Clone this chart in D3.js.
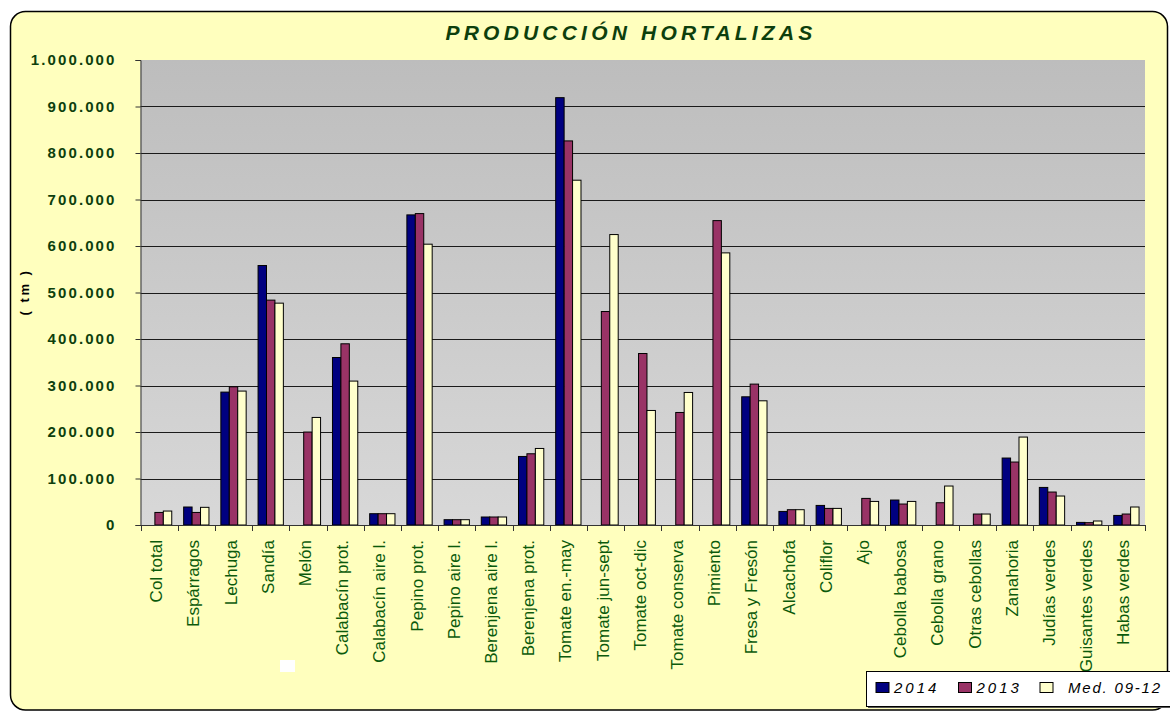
<!DOCTYPE html>
<html>
<head>
<meta charset="utf-8">
<script src="https://cdn.jsdelivr.net/npm/d3@7"></script>
<style>
 body { margin: 0; background: #fff; }
 text { font-family: Arial, "Liberation Sans", sans-serif; }
</style>
</head>
<body>
<div id="chart"></div>
<script>
// datos (tm)
var categories = ["Col total", "Espárragos", "Lechuga", "Sandía", "Melón",
 "Calabacín prot.", "Calabacín aire l.", "Pepino prot.", "Pepino aire l.",
 "Berenjena aire l.", "Berenjena prot.", "Tomate en.-may", "Tomate jun-sept",
 "Tomate oct-dic", "Tomate conserva", "Pimiento", "Fresa y Fresón", "Alcachofa",
 "Coliflor", "Ajo", "Cebolla babosa", "Cebolla grano", "Otras cebollas",
 "Zanahoria", "Judías verdes", "Guisantes verdes", "Habas verdes"];
var seriesNames = ["2014", "2013", "Med. 09-12"];
var values2014 = [null, 38700, 285800, 558000, null, 360200, 24300, 666900, 11400,
 17200, 147400, 919000, null, null, null, null, 275700, 29200, 42100, null,
 53700, null, null, 144000, 80800, 5600, 20600];
var values2013 = [27000, 27000, 297200, 483600, 199900, 389700, 24300, 669700, 11400,
 17200, 153200, 826000, 459100, 368800, 242000, 654600, 303000, 32900, 35700, 57200,
 45100, 47900, 23600, 135400, 70900, 5000, 23600];
var valuesMed = [30000, 38000, 288000, 477100, 231300, 309500, 24300, 603900, 11400,
 17200, 164600, 741500, 624600, 246300, 285000, 585200, 267100, 32900, 35700, 50700,
 50700, 83800, 23600, 189100, 62300, 8600, 38700];
var yTicks = [0, 100000, 200000, 300000, 400000, 500000, 600000, 700000, 800000, 900000, 1000000];

var colors = ["#000080", "#993366", "#FFFFCC"];

var svgWidth = 1170;
var svgHeight = 711;
var plot = { left: 140.5, right: 1145, top: 60, bottom: 525 };

var locale = d3.formatLocale({ decimal: ",", thousands: ".", grouping: [3], currency: ["", ""] });
var fmt = locale.format(",d");

var svg = d3.select("#chart")
 .append("svg")
   .attr("width", svgWidth)
   .attr("height", svgHeight);

// fondo amarillo con esquinas redondeadas
svg.append("rect")
 .attr("x", 10.5).attr("y", 11.5)
 .attr("width", 1157).attr("height", 698.5)
 .attr("rx", 15).attr("ry", 15)
 .attr("fill", "#FFFFBE")
 .attr("stroke", "#000")
 .attr("stroke-width", 1.5);

var defs = svg.append("defs");
var grad = defs.append("linearGradient")
 .attr("id", "plotbg")
 .attr("x1", 0).attr("y1", 0).attr("x2", 0).attr("y2", 1);
grad.append("stop").attr("offset", "0%").attr("stop-color", "#BDBDBD");
grad.append("stop").attr("offset", "100%").attr("stop-color", "#D8D8D8");

svg.append("rect")
 .attr("x", plot.left).attr("y", plot.top)
 .attr("width", plot.right - plot.left)
 .attr("height", plot.bottom - plot.top)
 .attr("fill", "url(#plotbg)");

// escalas
var x0 = d3.scaleBand()
 .domain(categories)
 .range([plot.left, plot.right])
 .padding(0);
var bw = x0.bandwidth();
var gw = bw * 0.68;
var x1 = d3.scaleBand()
 .domain(seriesNames)
 .range([(bw - gw) / 2, (bw + gw) / 2]);
var y = d3.scaleLinear()
 .domain([0, 1000000])
 .range([plot.bottom, plot.top]);

// líneas de división
svg.append("g")
 .selectAll("line")
 .data(yTicks.filter(function (d) { return d > 0 && d < 1000000; }))
 .enter()
 .append("line")
   .attr("x1", plot.left).attr("x2", plot.right)
   .attr("y1", function (d) { return Math.round(y(d)) + 0.5; })
   .attr("y2", function (d) { return Math.round(y(d)) + 0.5; })
   .attr("stroke", "#1a1a1a")
   .attr("stroke-width", 1);

// barras
var rows = categories.map(function (c, i) {
 return { cat: c, vals: [values2014[i], values2013[i], valuesMed[i]] };
});
svg.append("g")
 .selectAll("g")
 .data(rows)
 .enter()
 .append("g")
   .attr("transform", function (d) { return "translate(" + x0(d.cat) + ",0)"; })
 .selectAll("rect")
 .data(function (d) {
   return d.vals.map(function (v, j) { return { s: seriesNames[j], v: v, j: j }; })
     .filter(function (e) { return e.v != null; });
 })
 .enter()
 .append("rect")
   .attr("x", function (d) { return x1(d.s); })
   .attr("y", function (d) { return y(d.v); })
   .attr("width", x1.bandwidth())
   .attr("height", function (d) { return plot.bottom - y(d.v); })
   .attr("fill", function (d) { return colors[d.j]; })
   .attr("stroke", "#000")
   .attr("stroke-width", 1);

// eje Y
var yAxis = svg.append("g")
 .attr("transform", "translate(" + plot.left + ",0)")
 .call(d3.axisLeft(y).tickValues(yTicks).tickFormat(fmt).tickSize(5).tickPadding(19));
yAxis.select(".domain").attr("stroke", "#333");
yAxis.selectAll(".tick line").attr("stroke", "#333");
yAxis.selectAll("text")
 .attr("fill", "#0D3F0D")
 .style("font-size", "15px")
 .style("font-weight", "bold")
 .style("letter-spacing", "2.1px")
 .style("font-family", "Arial, 'Liberation Sans', sans-serif");

// eje X
var xAxis = svg.append("g")
 .attr("transform", "translate(0," + plot.bottom + ")")
 .call(d3.axisBottom(x0).tickSize(0).tickFormat(""));
xAxis.select(".domain").attr("stroke", "#333");
svg.append("g")
 .selectAll("line")
 .data(categories.concat(["__end"]))
 .enter()
 .append("line")
   .attr("x1", function (d, i) { return Math.round(plot.left + i * bw) + 0.5; })
   .attr("x2", function (d, i) { return Math.round(plot.left + i * bw) + 0.5; })
   .attr("y1", plot.bottom)
   .attr("y2", plot.bottom + 6)
   .attr("stroke", "#333");

svg.append("g")
 .selectAll("text")
 .data(categories)
 .enter()
 .append("text")
   .attr("transform", function (d) {
     return "translate(" + (x0(d) + bw / 2) + "," + (plot.bottom + 15) + ") rotate(-90)";
   })
   .attr("text-anchor", "end")
   .attr("dy", "0.18em")
   .attr("fill", "#0B5A0B")
   .style("font-size", "17px")
   .text(function (d) { return d; });

// título
svg.append("text")
 .attr("x", 631)
 .attr("y", 40)
 .attr("text-anchor", "middle")
 .attr("fill", "#0D3F0D")
 .style("font-size", "21px")
 .style("font-weight", "bold")
 .style("font-style", "italic")
 .style("letter-spacing", "4.2px")
 .text("PRODUCCIÓN HORTALIZAS");

// etiqueta eje Y
svg.append("text")
 .attr("transform", "translate(29,292) rotate(-90)")
 .attr("text-anchor", "middle")
 .attr("fill", "#000")
 .style("font-size", "13px")
 .style("font-weight", "bold")
 .style("letter-spacing", "2.5px")
 .text("( tm )");

// pequeño recuadro blanco
svg.append("rect")
 .attr("x", 280).attr("y", 660)
 .attr("width", 15).attr("height", 12)
 .attr("fill", "#fff");

// leyenda
var legend = svg.append("g").attr("transform", "translate(866.5,671.5)");
legend.append("rect")
 .attr("x", 1.5).attr("y", 1.5)
 .attr("width", 320).attr("height", 35)
 .attr("fill", "#555");
legend.append("rect")
 .attr("width", 320).attr("height", 35)
 .attr("fill", "#fff")
 .attr("stroke", "#000");
var legendX = [9.5, 92, 173.5];
var legendItems = legend.selectAll("g.item")
 .data(seriesNames)
 .enter()
 .append("g")
   .attr("class", "item")
   .attr("transform", function (d, i) { return "translate(" + legendX[i] + ",0)"; });
legendItems.append("rect")
 .attr("x", 0).attr("y", 11)
 .attr("width", 13).attr("height", 10)
 .attr("fill", function (d, i) { return colors[i]; })
 .attr("stroke", "#000");
legendItems.append("text")
 .attr("x", function (d, i) { return i == 2 ? 28 : 18; })
 .attr("y", 21)
 .attr("fill", "#000")
 .style("font-size", "15px")
 .style("font-style", "italic")
 .style("letter-spacing", function (d, i) { return i == 2 ? "1.8px" : "3px"; })
 .text(function (d) { return d; });
</script>
</body>
</html>
